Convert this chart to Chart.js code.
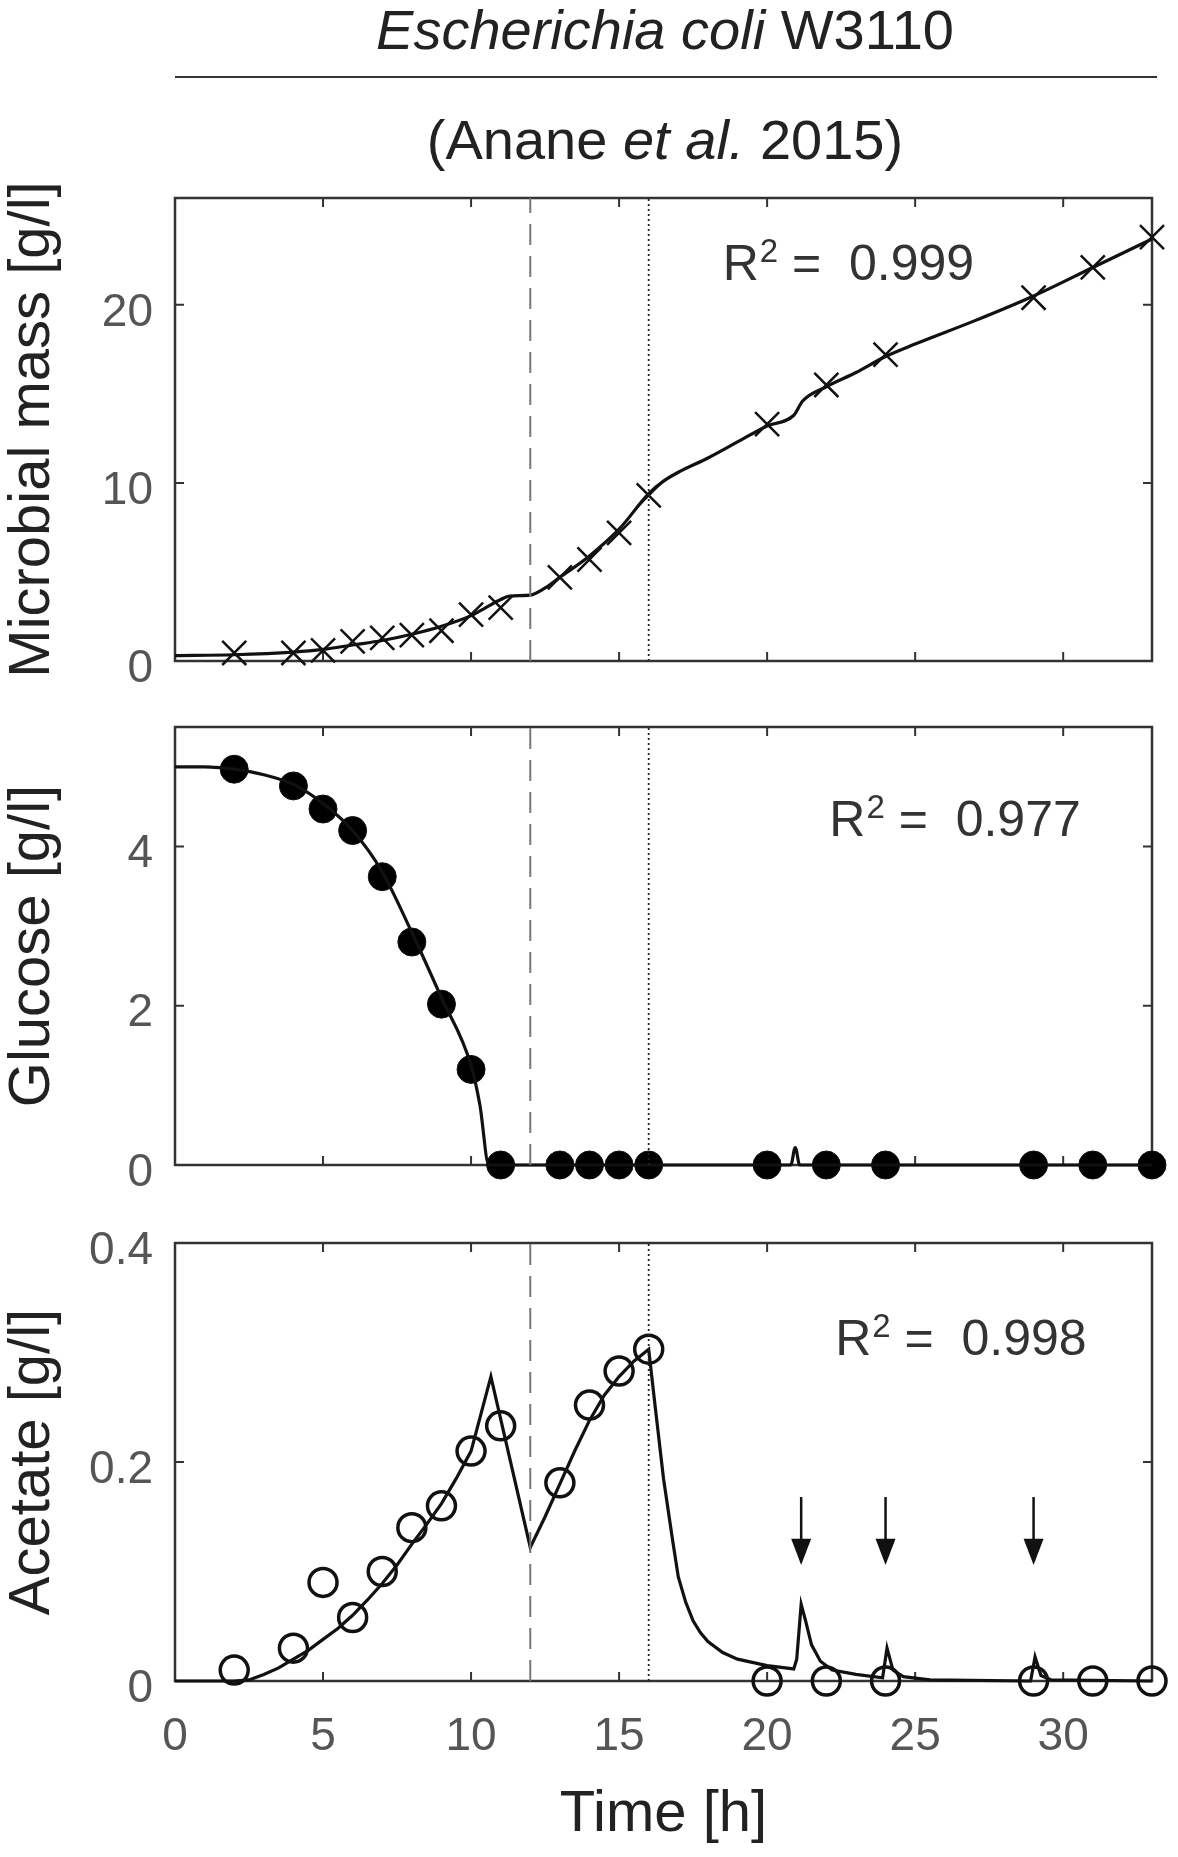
<!DOCTYPE html>
<html>
<head>
<meta charset="utf-8">
<script src="https://cdn.jsdelivr.net/npm/chart.js@4.4.0/dist/chart.umd.min.js"></script>
<style>
  body { margin: 0; background: #fff; width: 1178px; height: 1857px; position: relative;
         font-family: "Liberation Sans", Arial, sans-serif; color: #222; overflow: hidden; }
  .head { position: absolute; left: 175px; width: 980px; text-align: center; font-size: 56px; line-height: 64px; }
  #h1 { top: -2px; }
  #h2 { top: 108px; }
  #rule { position: absolute; left: 175px; top: 76px; width: 982px; height: 2px; background: #333; }
  canvas { position: absolute; left: 0; }
</style>
</head>
<body>
<div class="head" id="h1"><i>Escherichia coli</i> W3110</div>
<div id="rule"></div>
<div class="head" id="h2">(Anane <i>et al.</i> 2015)</div>
<canvas id="massChart" width="1178" height="530" style="top:170px"></canvas>
<canvas id="glucoseChart" width="1178" height="500" style="top:700px"></canvas>
<canvas id="acetateChart" width="1178" height="657" style="top:1200px"></canvas>
<script>
// sampling times (h) and measured values
var sampleTimes = [2, 4, 5, 6, 7, 8, 9, 10, 11, 13, 14, 15, 16, 20, 22, 24, 29, 31, 33];
var massData = [0.45, 0.45, 0.6, 1.1, 1.3, 1.45, 1.7, 2.6, 3.0, 4.7, 5.7, 7.2, 9.3, 13.3, 15.5, 17.2, 20.4, 22.1, 23.8];
var glucoseData = [4.97, 4.76, 4.47, 4.2, 3.62, 2.8, 2.02, 1.2, 0, 0, 0, 0, 0, 0, 0, 0, 0, 0, 0];
var acetateData = [0.01, 0.03, 0.09, 0.058, 0.1, 0.14, 0.16, 0.21, 0.233, 0.181, 0.252, 0.283, 0.303, 0, 0, 0, 0, 0, 0];

// model fits
var massFitT = [0, 2, 4, 5, 6, 7, 8, 9, 10, 10.5, 11, 11.3, 12, 12.5, 13, 14, 15, 16, 16.5, 17, 18, 19, 20, 20.9, 21.2, 22, 23, 24, 25, 27, 29, 31, 33];
var massFitV = [0.3, 0.35, 0.5, 0.65, 0.9, 1.15, 1.5, 1.95, 2.55, 3.0, 3.45, 3.65, 3.7, 4.1, 4.7, 5.9, 7.4, 9.4, 10.1, 10.6, 11.4, 12.3, 13.2, 13.8, 14.6, 15.4, 16.2, 17.1, 17.8, 19.1, 20.5, 22.1, 23.7];
var glucoseFitT = [0, 1, 1.5, 2, 3, 4, 5, 6, 7, 8, 9, 10, 10.3, 10.6, 15, 20.8, 20.95, 21.1, 25, 33];
var glucoseFitV = [5.0, 5.0, 4.99, 4.97, 4.9, 4.78, 4.54, 4.2, 3.68, 2.92, 2.1, 1.25, 0.75, 0, 0, 0, 0.22, 0, 0, 0];
var acetateFitT = [0, 2, 2.5, 3, 3.5, 4, 4.5, 5, 5.5, 6, 6.5, 7, 7.5, 8, 8.5, 9, 9.5, 10, 10.67, 12, 12.5, 13, 13.5, 14, 14.5, 15, 15.5, 16, 16.2, 16.5, 16.8, 17, 17.25, 17.5, 17.75, 18, 18.5, 19, 20, 20.9, 21.0, 21.15, 21.3, 21.5, 21.8, 22.2, 23, 23.9, 24.05, 24.25, 24.6, 25.5, 28.9, 29.05, 29.25, 29.6, 33];
var acetateFitV = [0, 0, 0.001, 0.006, 0.012, 0.02, 0.028, 0.038, 0.048, 0.06, 0.074, 0.089, 0.106, 0.125, 0.143, 0.162, 0.185, 0.21, 0.278, 0.122, 0.15, 0.18, 0.21, 0.238, 0.261, 0.278, 0.292, 0.303, 0.255, 0.185, 0.13, 0.095, 0.072, 0.055, 0.044, 0.036, 0.026, 0.02, 0.014, 0.011, 0.02, 0.07, 0.055, 0.033, 0.018, 0.01, 0.006, 0.003, 0.03, 0.01, 0.004, 0.001, 0, 0.022, 0.005, 0.001, 0];

var timeTicks = [0, 5, 10, 15, 20, 25, 30];
var massTicks = [0, 10, 20];
var glucoseTicks = [0, 2, 4];
var acetateTicks = [0, 0.2, 0.4];
var phaseLines = [12, 16];     // dashed, dotted
var feedPulses = [21.15, 24, 29];

var FONT = '"Liberation Sans", Arial, sans-serif';
Chart.defaults.font.family = FONT;

function pts(xs, ys) {
  return xs.map(function(x, i) { return {x: x, y: ys[i]}; });
}

// box with inward ticks, R² label, arrows
function makeFrame(r2, r2x, r2y, arrows) {
  return {
    id: 'frame',
    beforeDatasetsDraw: function(chart) {
      var ctx = chart.ctx, a = chart.chartArea, x = chart.scales.x, y = chart.scales.y;
      ctx.save();
      ctx.strokeStyle = '#333';
      ctx.lineWidth = 2.5;
      ctx.strokeRect(a.left, a.top, a.width, a.height);
      ctx.lineWidth = 2;
      ctx.beginPath();
      timeTicks.forEach(function(v) {
        var px = x.getPixelForValue(v);
        ctx.moveTo(px, a.bottom); ctx.lineTo(px, a.bottom - 9);
        ctx.moveTo(px, a.top); ctx.lineTo(px, a.top + 9);
      });
      y.ticks.forEach(function(t) {
        var py = y.getPixelForValue(t.value);
        ctx.moveTo(a.left, py); ctx.lineTo(a.left + 9, py);
        ctx.moveTo(a.right, py); ctx.lineTo(a.right - 9, py);
      });
      ctx.stroke();
      ctx.restore();
    },
    afterDatasetsDraw: function(chart) {
      var ctx = chart.ctx, x = chart.scales.x, y = chart.scales.y;
      var px = x.getPixelForValue(r2x), py = y.getPixelForValue(r2y);
      ctx.save();
      ctx.fillStyle = '#333';
      ctx.textAlign = 'left';
      ctx.textBaseline = 'alphabetic';
      ctx.font = '50px ' + FONT;
      ctx.fillText('R', px, py);
      px += ctx.measureText('R').width + 1;
      ctx.font = '33px ' + FONT;
      ctx.fillText('2', px, py - 18);
      px += ctx.measureText('2').width;
      ctx.font = '50px ' + FONT;
      ctx.fillText(' =  ' + r2, px, py);

      (arrows || []).forEach(function(t) {
        var ax = x.getPixelForValue(t);
        var top = y.getPixelForValue(0.168), neck = y.getPixelForValue(0.13), tip = y.getPixelForValue(0.106);
        ctx.strokeStyle = '#111';
        ctx.lineWidth = 2.5;
        ctx.beginPath();
        ctx.moveTo(ax, top); ctx.lineTo(ax, neck + 2);
        ctx.stroke();
        ctx.fillStyle = '#111';
        ctx.beginPath();
        ctx.moveTo(ax - 10, neck); ctx.lineTo(ax + 10, neck); ctx.lineTo(ax, tip);
        ctx.closePath();
        ctx.fill();
      });
      ctx.restore();
    }
  };
}

function phaseSets(ymin, ymax) {
  return [
    {data: [{x: phaseLines[0], y: ymin}, {x: phaseLines[0], y: ymax}], showLine: true, borderColor: '#777',
     borderWidth: 2, borderDash: [21, 11], pointRadius: 0},
    {data: [{x: phaseLines[1], y: ymin}, {x: phaseLines[1], y: ymax}], showLine: true, borderColor: '#222',
     borderWidth: 1.8, borderDash: [2, 3], pointRadius: 0}
  ];
}

function panel(id, o) {
  var datasets = phaseSets(o.min, o.max).concat([
    {data: pts(o.fitT, o.fitV), showLine: true, borderColor: '#111', borderWidth: 3.2, pointRadius: 0,
     cubicInterpolationMode: o.smooth ? 'monotone' : 'default', tension: 0, clip: false},
    {data: pts(sampleTimes, o.data), showLine: false, pointStyle: o.marker, pointRadius: o.radius,
     borderColor: '#111', borderWidth: o.markerWidth, backgroundColor: o.fill, clip: false}
  ]);
  return new Chart(document.getElementById(id), {
    type: 'scatter',
    data: {datasets: datasets},
    options: {
      responsive: false,
      animation: false,
      layout: {padding: {top: o.padTop, right: 26, bottom: 0, left: 0}},
      plugins: {legend: {display: false}, tooltip: {enabled: false}},
      scales: {
        x: {
          type: 'linear', min: 0, max: 33,
          afterBuildTicks: function(s) { s.ticks = timeTicks.map(function(v) { return {value: v}; }); },
          afterFit: function(s) {
            s.height = o.xHeight;
            s.paddingLeft = 0; s.paddingRight = 0; s.paddingTop = 0; s.paddingBottom = 0;
          },
          grid: {display: false, drawTicks: false},
          border: {display: false},
          ticks: {display: !!o.showTime, color: '#555', font: {size: 46}, padding: 29, maxRotation: 0,
                  autoSkip: false},
          title: {display: !!o.showTime, text: 'Time [h]', color: '#222', font: {size: 58, lineHeight: 1},
                  padding: {top: 0, bottom: 13}}
        },
        y: {
          type: 'linear', min: o.min, max: o.max,
          afterBuildTicks: function(s) { s.ticks = o.ticks.map(function(v) { return {value: v}; }); },
          afterFit: function(s) {
            s.width = 175;
            s.paddingLeft = 0; s.paddingRight = 0; s.paddingTop = 0; s.paddingBottom = 0;
          },
          grid: {display: false, drawTicks: false},
          border: {display: false},
          ticks: {color: '#555', font: {size: 46}, padding: 22, labelOffset: 8,
                  callback: function(v) { return String(v); }},
          title: {display: true, text: o.title, color: '#222', font: {size: 58, lineHeight: 1},
                  padding: {top: 4, bottom: 0}}
        }
      }
    },
    plugins: [makeFrame(o.r2, o.r2x, o.r2y, o.arrows)]
  });
}

var MassChart = panel('massChart', {
  min: 0, max: 26, ticks: massTicks, title: 'Microbial mass [g/l]',
  fitT: massFitT, fitV: massFitV, data: massData, smooth: true,
  marker: 'crossRot', radius: 17, markerWidth: 2.5, fill: '#111',
  padTop: 28, xHeight: 39, r2: '0.999', r2x: 18.5, r2y: 21.4
});

var GlucoseChart = panel('glucoseChart', {
  min: 0, max: 5.5, ticks: glucoseTicks, title: 'Glucose [g/l]',
  fitT: glucoseFitT, fitV: glucoseFitV, data: glucoseData, smooth: true,
  marker: 'circle', radius: 14, markerWidth: 1, fill: '#000',
  padTop: 27, xHeight: 35, r2: '0.977', r2x: 22.1, r2y: 4.13
});

var AcetateChart = panel('acetateChart', {
  min: 0, max: 0.4, ticks: acetateTicks, title: 'Acetate [g/l]',
  fitT: acetateFitT, fitV: acetateFitV, data: acetateData, smooth: false,
  marker: 'circle', radius: 14, markerWidth: 3.5, fill: 'rgba(0,0,0,0)',
  padTop: 43, xHeight: 176, showTime: true, r2: '0.998', r2x: 22.3, r2y: 0.298,
  arrows: feedPulses
});
</script>
</body>
</html>
